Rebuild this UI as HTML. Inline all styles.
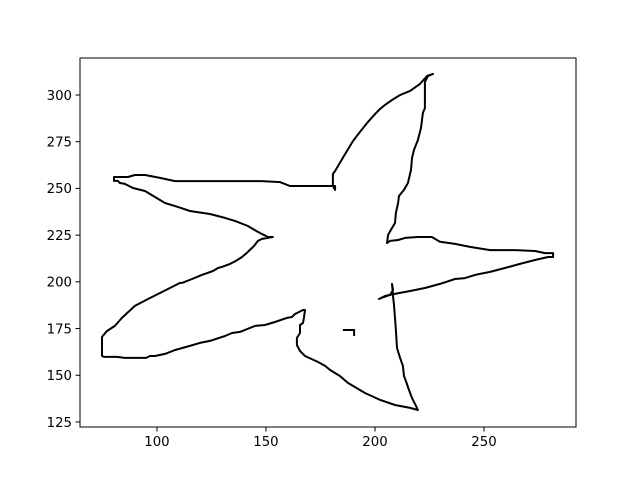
<!DOCTYPE html>
<html><head><meta charset="utf-8"><style>
html,body{margin:0;padding:0;background:#fff;}
svg{display:block;font-family:"DejaVu Sans","Liberation Sans",sans-serif;}
</style></head><body>
<svg id="chart" width="640" height="480" viewBox="0 0 640 480" xmlns="http://www.w3.org/2000/svg">
<rect x="0" y="0" width="640" height="480" fill="#fff"/>
<g id="plot"></g>
</svg>
<script>
const xTicks = [100, 150, 200, 250];
const yTicks = [125, 150, 175, 200, 225, 250, 275, 300];
const outlineX = [80.3,80.3,82.1,83.0,85.3,89.0,94.5,99.1,103.7,109.6,115.1,124.3,131.2,135.8,141.7,146.3,150.9,153.2,148.2,146.3,144.5,141.7,139.0,136.2,133.5,129.8,128.0,125.7,120.6,116.1,111.5,110.6,101.4,95.9,89.9,83.9,80.7,77.1,74.8,74.8,74.8,75.7,81.7,85.3,95.0,96.8,99.1,103.7,108.3,115.1,119.7,124.3,131.2,134.4,138.1,145.0,149.5,154.1,159.6,161.9,163.3,167.0,167.9,167.4,167.0,165.6,165.6,164.2,164.2,165.6,167.9,173.9,177.1,179.4,183.9,187.6,195.4,202.3,209.2,216.1,219.7,218.8,217.0,215.6,214.2,213.3,212.8,211.5,210.1,209.6,208.7,208.3,207.8,208.3,206.9,204.1,201.8,204.6,208.7,216.1,222.9,229.8,236.7,241.3,245.9,252.8,259.6,266.5,273.4,279.4,281.7,281.7,278.0,273.4,264.2,252.8,243.6,236.7,229.8,226.1,219.7,213.8,210.6,206.9,205.5,206.0,207.8,209.2,209.6,210.6,211.0,213.3,215.1,216.5,217.0,217.9,219.7,221.1,222.0,222.9,222.9,222.9,224.3,226.6,223.9,220.6,216.1,211.5,207.8,204.6,202.3,200.0,196.8,193.1,189.9,185.8,181.7,180.7,180.7,181.7,181.7,177.1,170.2,161.0,156.4,148.2,138.1,119.7,108.3,101.4,94.5,89.9,86.7,83.0,80.3,80.3];
const outlineY = [254.5,254.0,254.0,252.9,252.4,250.2,248.6,245.4,242.2,240.1,237.9,236.3,234.2,232.6,229.9,226.7,224.0,224.0,223.0,221.9,219.2,216.0,213.3,211.2,209.6,208.0,207.4,205.8,203.7,201.5,199.4,199.4,194.0,190.8,187.1,180.7,176.4,173.7,170.5,166.7,160.3,159.8,159.8,159.3,159.3,160.3,160.3,161.4,163.5,165.7,167.3,168.4,171.0,172.6,173.2,176.4,176.9,178.5,180.7,181.2,182.8,184.9,184.9,180.7,178.0,176.9,172.6,170.0,166.2,163.0,160.3,157.1,155.0,152.8,149.6,145.9,140.5,136.8,134.1,132.5,131.4,133.6,137.8,142.1,146.9,149.6,155.0,159.3,164.6,174.2,187.6,191.9,198.9,195.7,193.0,191.9,190.8,192.4,193.5,195.1,196.7,198.9,201.5,202.0,203.7,205.3,207.4,209.6,211.7,213.3,213.3,215.4,215.4,216.5,217.0,217.0,218.7,220.3,221.4,224.0,224.0,223.5,222.4,221.9,220.8,225.1,228.8,231.5,236.9,242.2,246.0,249.2,252.9,259.9,266.3,270.6,275.9,282.4,290.4,293.0,302.7,307.0,310.2,311.3,310.2,305.9,302.2,300.0,297.3,294.7,292.5,289.8,285.6,280.2,275.4,267.4,259.3,257.7,251.3,249.2,251.3,251.3,251.3,251.3,253.4,253.9,253.9,253.9,253.9,255.6,257.2,257.2,256.1,256.1,256.1,254.5];
const markX = [185.3, 190.4, 190.4];
const markY = [174.2, 174.2, 171.0];

const L = 80, R = 576, T = 58, B = 427;
const xMin = 64.7, xMax = 292.2, yMin = 122.3, yMax = 319.8;
function sx(v){ return L + (v - xMin) / (xMax - xMin) * (R - L); }
function sy(v){ return B - (v - yMin) / (yMax - yMin) * (B - T); }
const NS = "http://www.w3.org/2000/svg";
const g = document.getElementById('plot');
function mk(tag, attrs){ const e = document.createElementNS(NS, tag); for (const k in attrs) e.setAttribute(k, attrs[k]); g.appendChild(e); return e; }

function pathFrom(xs, ys){ return xs.map((v,i)=> (i? 'L':'M') + sx(v).toFixed(1) + ' ' + sy(ys[i]).toFixed(1)).join(' '); }
const outline = mk('path', {d: pathFrom(outlineX, outlineY), fill:'none', stroke:'#000', 'stroke-width':2, 'stroke-linejoin':'round'});


const mark = mk('path', {d: pathFrom(markX, markY), fill:'none', stroke:'#000', 'stroke-width':2});



const frame = mk('rect', {x:L, y:T, width:R-L, height:B-T, fill:'none', stroke:'#000', 'stroke-width':1});



xTicks.forEach(v => {
  const x = sx(v);
  const t = mk('line', {x1:x, x2:x, y1:B, y2:B+4.5, stroke:'#000', 'stroke-width':1});
  
  
  const lb = mk('text', {x:x, y:B+19, 'font-size':13.3, 'text-anchor':'middle', fill:'#000'});
  lb.textContent = v;
  
  
});
yTicks.forEach(v => {
  const y = sy(v);
  const t = mk('line', {x1:L-4.5, x2:L, y1:y, y2:y, stroke:'#000', 'stroke-width':1});
  
  
  const lb = mk('text', {x:L-8, y:y+4.8, 'font-size':13.3, 'text-anchor':'end', fill:'#000'});
  lb.textContent = v;
  
  
});
</script>
</body></html>
